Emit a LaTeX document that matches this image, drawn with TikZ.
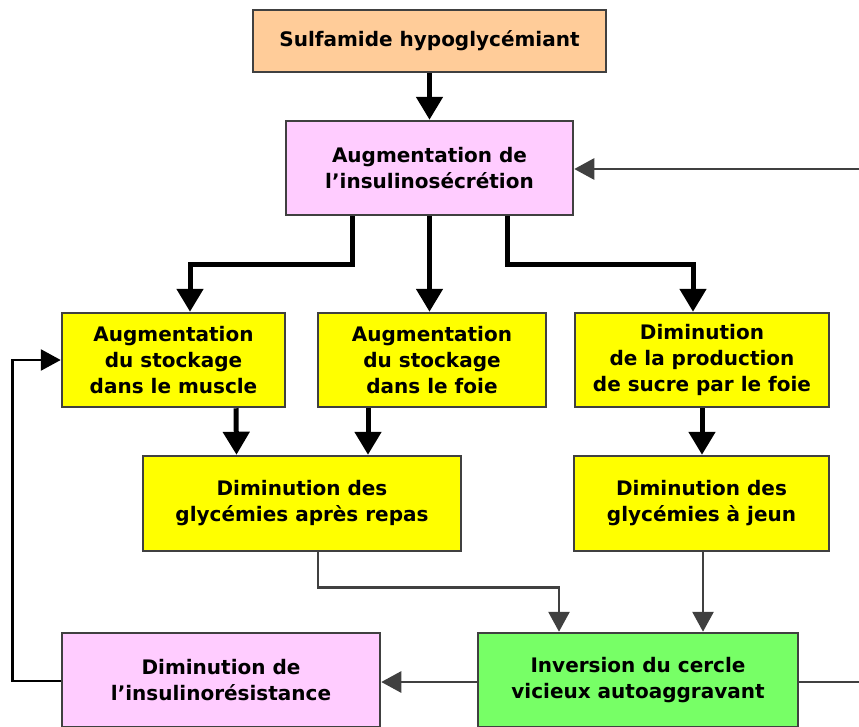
\documentclass[tikz,border=0pt]{standalone}
\usepackage{fontspec}
\setmainfont{DejaVu Sans}
\usetikzlibrary{arrows.meta}
\definecolor{peach}{HTML}{FFCC99}
\definecolor{lilac}{HTML}{FFCCFF}
\definecolor{lemon}{HTML}{FFFF00}
\definecolor{lime}{HTML}{77FF66}

\begin{document}
\begin{tikzpicture}[x=1pt, y=-1pt, line cap=butt, line join=miter,
	box/.style={draw=black!75, line width=2.5, align=center, inner sep=0,
		font=\bfseries\fontsize{20}{26}\selectfont},
	thickarrow/.style={line width=5, -{Triangle[width=26pt, length=23pt]}},
	thinarrow/.style={draw=black!75, line width=2.8, -{Triangle[width=21pt, length=20pt]}},
	thinline/.style={draw=black!75, line width=2.8}]
	\useasboundingbox (0,0) rectangle (859,726);
	% boxes
	\node[box, fill=peach, minimum width=353, minimum height=62] (sulfa) at (429.5,41) {Sulfamide hypoglycémiant};
	\node[box, fill=lilac, minimum width=287, minimum height=94] (secr) at (429.5,168) {Augmentation de\\l'insulinosécrétion};
	\node[box, fill=lemon, minimum width=223, minimum height=94] (muscle) at (173.5,360) {Augmentation\\du stockage\\dans le muscle};
	\node[box, fill=lemon, minimum width=228, minimum height=94] (foie) at (432,360) {Augmentation\\du stockage\\dans le foie};
	\node[box, fill=lemon, minimum width=254, minimum height=94] (prod) at (702,360) {Diminution\\de la production\\de sucre par le foie};
	\node[box, fill=lemon, minimum width=318, minimum height=95] (repas) at (302,503.5) {Diminution des\\glycémies après repas};
	\node[box, fill=lemon, minimum width=255, minimum height=95] (jeun) at (701.5,503.5) {Diminution des\\glycémies à jeun};
	\node[box, fill=lime, minimum width=320, minimum height=94] (cercle) at (638,680) {Inversion du cercle\\vicieux autoaggravant};
	\node[box, fill=lilac, minimum width=318, minimum height=94] (resist) at (221,680) {Diminution de\\l'insulinorésistance};
	\coordinate (retour) at (870,169);
	\coordinate (suite) at (870,682);
	% connectors
	\draw[thickarrow] (sulfa) -- (secr);
	\draw[thickarrow] ([xshift=-77.5]secr.south) -- ++(0,48) -| ([xshift=16.5]muscle.north);
	\draw[thickarrow] (secr.south) -- (secr.south |- foie.north);
	\draw[thickarrow] ([xshift=77.5]secr.south) -- ++(0,48) -| ([xshift=-9]prod.north);
	\draw[thickarrow] ([xshift=62.5]muscle.south) -- ([xshift=-65.5]repas.north);
	\draw[thickarrow] ([xshift=-64]foie.south) -- ([xshift=66]repas.north);
	\draw[thickarrow] (prod) -- (prod |- jeun.north);
	\draw[thinarrow] ([xshift=16]repas.south) -- ++(0,35) -| ([xshift=-79]cercle.north);
	\draw[thinarrow] ([xshift=1.5]jeun.south) -- ([xshift=65]cercle.north);
	\draw[thinarrow] ([yshift=-2]cercle.west) -- ([yshift=-2]resist.east);
	\draw[thinline] ([yshift=-2]cercle.east) -- (suite);
	\draw[thinarrow] (retour) -- (retour -| secr.east);
	\draw[thinarrow, draw=black] ([yshift=-1]resist.west) -- ++(-48,0) |- (muscle.west);
\end{tikzpicture}
\end{document}
